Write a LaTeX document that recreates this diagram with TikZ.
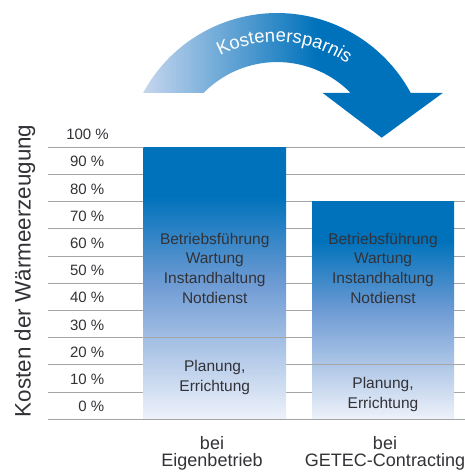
\documentclass[tikz,border=0pt]{standalone}
\usepackage{fontspec}
\setmainfont{Liberation Sans}
\usetikzlibrary{decorations.text}
\definecolor{ablue}{RGB}{0,114,187}
\definecolor{alight}{RGB}{198,214,238}
\definecolor{bbot}{RGB}{238,242,250}
\definecolor{bmid}{RGB}{110,155,212}
\definecolor{gridgray}{RGB}{165,165,165}
\definecolor{txtgray}{RGB}{50,50,55}
\pgfdeclareverticalshading{barshade}{100bp}{color(0bp)=(bbot); color(25bp)=(bbot); color(50bp)=(bmid); color(66bp)=(ablue); color(100bp)=(ablue)}
\pgfdeclarehorizontalshading{arrowshade}{100bp}{color(0bp)=(alight); color(25bp)=(alight); color(54bp)=(ablue); color(100bp)=(ablue)}
\tikzset{
  gridline/.style={draw=gridgray, line width=1.1bp},
  pct/.style={inner sep=0pt, text=txtgray, anchor=base east, font=\fontsize{15bp}{17bp}\selectfont},
  lbl/.style={inner sep=0pt, text=txtgray, anchor=base, font=\fontsize{15.5bp}{19.7bp}\selectfont},
  lblbig/.style={inner sep=0pt, text=txtgray, anchor=base, font=\fontsize{18bp}{20bp}\selectfont},
  bar/.style={shading=barshade},
}
\begin{document}
\begin{tikzpicture}[x=1bp,y=1bp]
\useasboundingbox (0,0) rectangle (465,472);
% grid lines
\foreach \k in {0,...,10} \draw[gridline] (48,{324.7-27.2*\k}) -- (465,{324.7-27.2*\k});
% percent labels
\node[pct] (p100) at (109,332.2) {100~\%};
\foreach \k/\t in {1/90,2/80,3/70,4/60,5/50,6/40,7/30,8/20,9/10,10/0}
  \node[pct] (p\t) at (104.5,{332.2-27.2*\k}) {\t~\%};
% bars
\shade[bar] (143.5,52.7) rectangle (286,324.7);
\shade[bar] (312,52.7) rectangle (454,270.3);
\draw[gridline] (143.5,134.3) -- (312,134.3);
\draw[gridline] (312,107.1) -- (454,107.1);
\draw[gridline] (48,52.7) -- (465,52.7);
% bar texts
\node[lbl] (a1) at (214.75,227.7) {Betriebsführung};
\node[lbl] (a2) at (214.75,208) {Wartung};
\node[lbl] (a3) at (214.75,188.3) {Instandhaltung};
\node[lbl] (a4) at (214.75,168.7) {Notdienst};
\node[lbl] (a5) at (214.75,100.3) {Planung,};
\node[lbl] (a6) at (214.75,80.3) {Errichtung};
\node[lbl] (c1) at (383,227.7) {Betriebsführung};
\node[lbl] (c2) at (383,208) {Wartung};
\node[lbl] (c3) at (383,188.3) {Instandhaltung};
\node[lbl] (c4) at (383,168.7) {Notdienst};
\node[lbl] (c5) at (383,83.7) {Planung,};
\node[lbl] (c6) at (383,63.7) {Errichtung};
% bottom labels
\node[lblbig] (b1a) at (212,22.7) {bei};
\node[lblbig] (b1b) at (212,5) {Eigenbetrieb};
\node[lblbig] (b2a) at (385,22.7) {bei};
\node[lblbig] (b2b) at (385,5) {GETEC-Contracting};
% axis title
\node[rotate=90, anchor=base west, inner sep=0pt, text=txtgray, font=\fontsize{22.4bp}{26bp}\selectfont] (ytitle) at (30.7,54.7) {Kosten der Wärmeerzeugung};
% arrow
\shade[shading=arrowshade] (143.1,379) arc[start angle=151.7, end angle=28.3, radius=152] -- (442.7,379) -- (381.7,334.3) -- (322.7,379) -- (350.7,379) arc[start angle=44.4, end angle=135.6, radius=103] -- cycle;
\path[decorate, decoration={text along path, text align=center, text={|\fontsize{18.5bp}{20bp}\selectfont\color{white}|Kostenersparnis}}] (277,307) ++(146.4:123) arc[start angle=146.4, end angle=26.4, radius=123];
\end{tikzpicture}
\end{document}
